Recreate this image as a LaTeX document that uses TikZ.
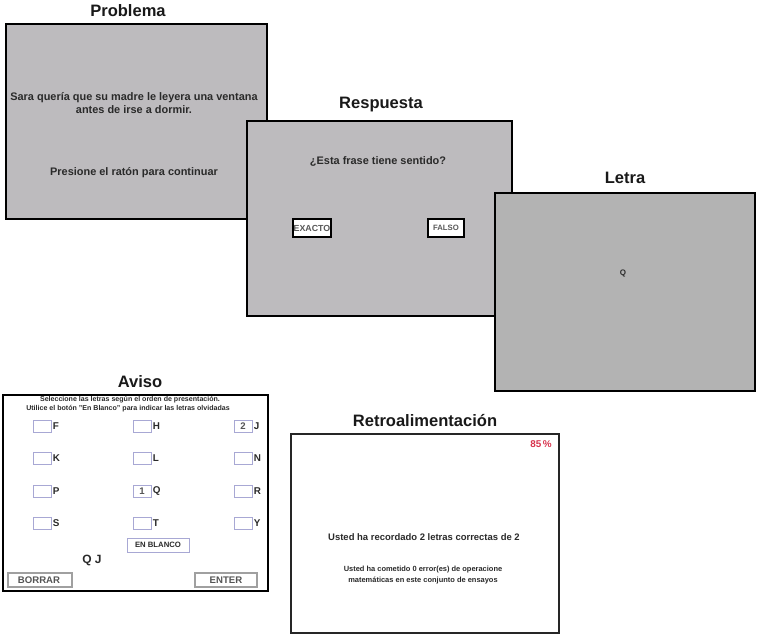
\documentclass[tikz,border=0pt]{standalone}
\usepackage{fontspec}
\setmainfont{Liberation Sans}
\definecolor{screen}{HTML}{BDBBBE}
\definecolor{screendark}{HTML}{B3B3B3}
\definecolor{slotline}{HTML}{A8A8D4}
\definecolor{btnline}{HTML}{A0A0A0}
\definecolor{ink}{HTML}{2A2A2A}
\definecolor{scorered}{HTML}{D8344E}
\begin{document}
\begin{tikzpicture}[x=0.75pt,y=-0.75pt,
  panel/.style={draw=black,line width=1.8pt,fill=screen},
  whitepanel/.style={draw=black!85,line width=1.8pt,fill=white},
  title/.style={font=\bfseries\fontsize{12.4}{14}\selectfont,text=black!90},
  body/.style={font=\bfseries\fontsize{8.2}{10}\selectfont,text=ink,align=center},
  tiny/.style={font=\bfseries\fontsize{5.3}{6.6}\selectfont,text=ink,align=center},
  answerbtn/.style={draw=black,line width=2.2pt,fill=white},
  slot/.style={draw=slotline,line width=0.7pt,fill=white},
  btn/.style={draw=btnline,line width=0.8pt,fill=white},
  letter/.style={font=\bfseries\fontsize{7.4}{8}\selectfont,text=ink,anchor=west,inner sep=0pt},
  btntext/.style={font=\bfseries\fontsize{7.2}{8}\selectfont,text=ink!80}]
\useasboundingbox (0,0) rectangle (757,636);

% --- Problema screen
\node[title] (tProblema) at (128,11) {Problema};
\draw[panel] (6,24) rectangle (267,219);
\node[body,font=\bfseries\fontsize{8.2}{9.6}\selectfont] (sentence) at (134,103)
  {Sara quería que su madre le leyera una ventana\\antes de irse a dormir.};
\node[body] (clickmsg) at (134,173) {Presione el ratón para continuar};

% --- Respuesta screen
\node[title] (tRespuesta) at (381,105) {Respuesta};
\draw[panel] (247,121) rectangle (512,316);
\node[body] (question) at (378,161) {¿Esta frase tiene sentido?};
\draw[answerbtn] (293,219) rectangle (331,237);
\node[font=\bfseries\fontsize{6.6}{7}\selectfont,text=black!65] (exacto) at (312,228) {EXACTO};
\draw[black,line width=2.2pt] (293,219) rectangle (331,237);
\draw[answerbtn] (428,219) rectangle (464,237);
\node[font=\bfseries\fontsize{5.8}{7}\selectfont,text=black!65] (falso) at (446,228) {FALSO};

% --- Letra screen
\node[title] (tLetra) at (625,178) {Letra};
\draw[panel,fill=screendark] (495,193) rectangle (755,391);
\node[font=\bfseries\fontsize{6}{7}\selectfont,text=ink] (letterQ) at (623,273) {Q};

% --- Aviso screen (letter recall grid)
\node[title] (tAviso) at (140,382) {Aviso};
\draw[draw=black,line width=1.6pt,fill=white] (3,395) rectangle (268,591);
\node[tiny] (instr1) at (130,400) {Seleccione las letras según el orden de presentación.};
\node[tiny] (instr2) at (128,408.5) {Utilice el botón "En Blanco" para indicar las letras olvidadas};
\foreach \cx/\la/\lb/\lc/\ld [count=\c] in {33/F/K/P/S, 133/H/L/Q/T, 234/J/N/R/Y}{
  \foreach \cy/\lt [count=\r] in {426/\la, 458/\lb, 491/\lc, 523/\ld}{
    \draw[slot] (\cx,\cy-6) rectangle (\cx+18,\cy+6);
    \node[letter] (let-\c-\r) at (\cx+19.5,\cy) {\lt};
  }
}
\node[btntext] (orderJ) at (243,426) {2};
\node[btntext] (orderQ) at (142,491) {1};
\draw[slot] (127,538) rectangle (189,552);
\node[font=\bfseries\fontsize{5.8}{7}\selectfont,text=ink] (blank) at (158,545) {EN BLANCO};
\node[font=\bfseries\fontsize{9}{10}\selectfont,text=ink] (chosen) at (92,560) {Q J};
\draw[btn] (8,573) rectangle (72,587);
\node[btntext] (borrar) at (39,580) {BORRAR};
\draw[btn] (195,573) rectangle (257,587);
\node[btntext] (enter) at (226,580) {ENTER};

% --- Retroalimentacion screen
\node[title] (tRetro) at (425,421) {Retroalimentación};
\draw[whitepanel] (291,434) rectangle (559,633);
\node[font=\bfseries\fontsize{7.4}{9}\selectfont,text=scorered] (score) at (541,444) {85\,\%};
\node[body,font=\bfseries\fontsize{7.1}{9}\selectfont] (recall) at (424,537)
  {Usted ha recordado 2 letras correctas de 2};
\node[body,font=\bfseries\fontsize{5.6}{8.4}\selectfont] (errors) at (423,575)
  {Usted ha cometido 0 error(es) de operacione\\matemáticas en este conjunto de ensayos};
\end{tikzpicture}
\end{document}
